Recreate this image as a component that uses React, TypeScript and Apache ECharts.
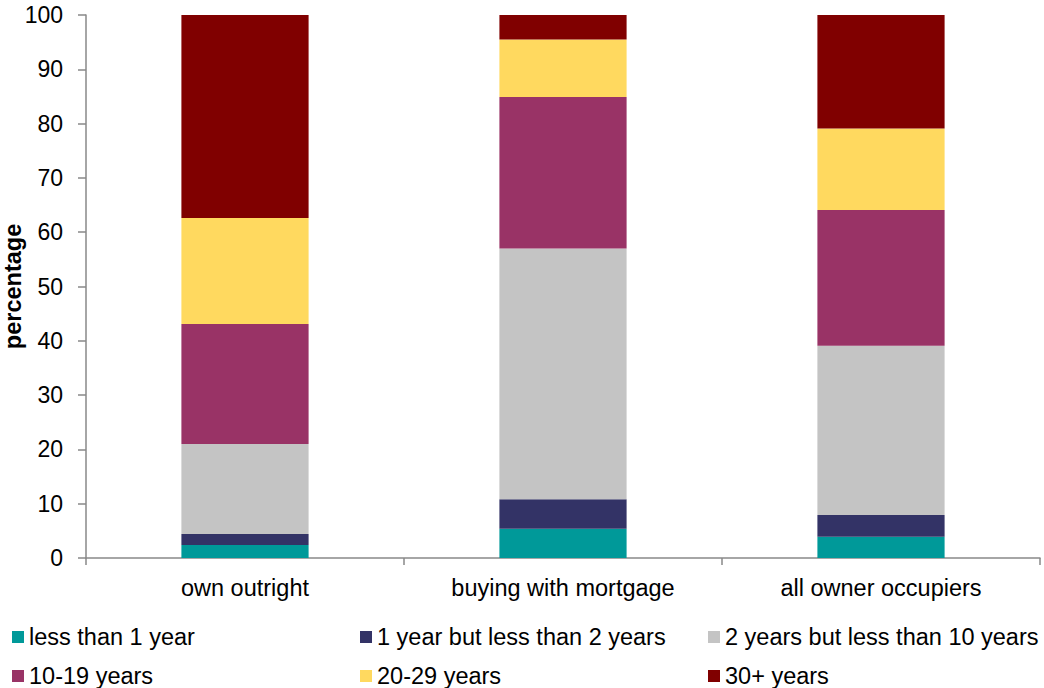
import React, { useEffect, useRef } from "react";
import * as echarts from "echarts";

// Tenure groups on the category axis
const categories = ["own outright", "buying with mortgage", "all owner occupiers"];

// Length of residence bands (stack order, bottom to top)
const bandNames = [
  "less than 1 year",
  "1 year but less than 2 years",
  "2 years but less than 10 years",
  "10-19 years",
  "20-29 years",
  "30+ years",
];

// Percentage of households in each band, per tenure group
const lessThan1 = [2.4, 5.4, 3.9];
const oneToTwo = [2.0, 5.4, 4.0];
const twoToTen = [16.6, 46.2, 31.2];
const tenToNineteen = [22.1, 27.9, 25.0];
const twentyToTwentyNine = [19.5, 10.6, 15.0];
const thirtyPlus = [37.4, 4.5, 20.9];

const bandValues = [lessThan1, oneToTwo, twoToTen, tenToNineteen, twentyToTwentyNine, thirtyPlus];
const bandColors = ["#009999", "#333366", "#C4C4C4", "#993366", "#FFD95F", "#800000"];

const yTicks = { min: 0, max: 100, interval: 10 };

const FONT = "'Liberation Sans', Arial, Helvetica, sans-serif";
const AXIS_GREY = "#898989";

// Legend slots: three columns, two rows
const legendColumnsX = [12, 360, 708];
const legendRowsY = [625, 664];

export default function App() {
  const ref = useRef<HTMLDivElement>(null);

  useEffect(() => {
    if (!ref.current) return;
    const chart = echarts.init(ref.current, undefined, { renderer: "svg" });

    const legendItem = (name: string, idx: number) => ({
      show: true,
      orient: "horizontal" as const,
      left: legendColumnsX[idx % 3],
      top: legendRowsY[Math.floor(idx / 3)],
      data: [name],
      icon: "rect",
      itemWidth: 12,
      itemHeight: 12,
      padding: 0,
      selectedMode: false,
      textStyle: {
        fontFamily: FONT,
        fontSize: 23.5,
        lineHeight: 24,
        color: "#000",
      },
    });

    chart.setOption({
      animation: false,
      backgroundColor: "#fff",
      textStyle: { fontFamily: FONT },
      grid: { left: 86, right: 4, top: 15, bottom: 130, containLabel: false, outerBoundsMode: "none" },
      legend: bandNames.map((name, i) => legendItem(name, i)),
      xAxis: {
        type: "category",
        data: categories,
        boundaryGap: true,
        axisLine: { show: true, lineStyle: { color: AXIS_GREY, width: 1.5 } },
        axisTick: { show: true, length: 7, lineStyle: { color: AXIS_GREY, width: 1.5 } },
        axisLabel: {
          margin: 18,
          fontFamily: FONT,
          fontSize: 23.5,
          color: "#000",
        },
        splitLine: { show: false },
      },
      yAxis: {
        type: "value",
        min: yTicks.min,
        max: yTicks.max,
        interval: yTicks.interval,
        name: "percentage",
        nameLocation: "middle",
        nameRotate: 90,
        nameGap: 61,
        nameMoveOverlap: false,
        nameTextStyle: {
          fontFamily: FONT,
          fontSize: 23.5,
          fontWeight: "bold",
          color: "#000",
        },
        axisLine: { show: true, lineStyle: { color: AXIS_GREY, width: 1.5 } },
        axisTick: { show: true, length: 8, lineStyle: { color: AXIS_GREY, width: 1.5 } },
        axisLabel: {
          margin: 23,
          fontFamily: FONT,
          fontSize: 23,
          color: "#000",
        },
        splitLine: { show: false },
      },
      series: bandNames.map((name, i) => ({
        name,
        type: "bar",
        stack: "tenure",
        barWidth: "40%",
        data: bandValues[i],
        itemStyle: { color: bandColors[i] },
        emphasis: { disabled: true },
      })),
    });

    return () => chart.dispose();
  }, []);

  return (
    <div
      ref={ref}
      style={{ position: "fixed", left: 0, top: 0, width: 1044, height: 688, background: "#fff" }}
    />
  );
}
